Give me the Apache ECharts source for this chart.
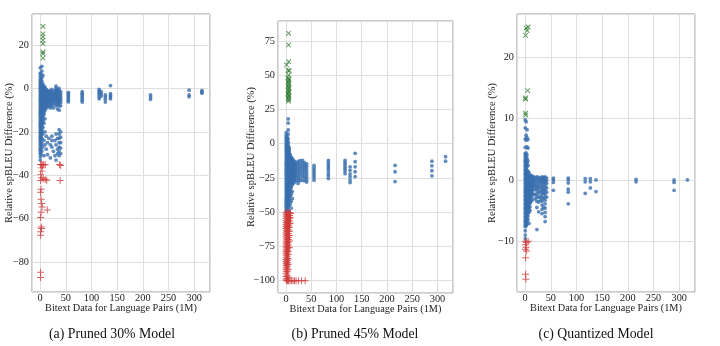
<!DOCTYPE html>
<html>
<head>
<meta charset="utf-8">
<script src="https://cdn.jsdelivr.net/npm/echarts@6/dist/echarts.min.js"></script>
<style>
html, body { margin: 0; padding: 0; background: #fff; }
#chart { width: 720px; height: 346px; }
</style>
</head>
<body>
<div id="chart"></div>
<script>
// Relative spBLEU difference vs. bitext size per language pair, three compressed models.
// Points are stored as columns: [bitext size (M), [relative differences (%) ...]].

const panelTitles = ['(a) Pruned 30% Model', '(b) Pruned 45% Model', '(c) Quantized Model'];
const xAxisTitle = 'Bitext Data for Language Pairs (1M)';
const yAxisTitle = 'Relative spBLEU Difference (%)';

// ---------- (a) Pruned 30% ----------
const blueColsA = [
  [0.3, [9.5, 7, 5.5, 4, 3, 2, 1, 0, -1, -2, -3, -4, -5, -6, -7, -8, -9, -10, -11, -12, -13, -14, -15, -16, -17, -18, -19, -20, -21, -22, -23, -24, -25, -26, -27, -28, -29, -30, -31.5, -33]],
  [1.8, [6.5, 4.5, 3.5, 2.5, 1.5, 0.5, -0.5, -1.5, -2.5, -3.5, -4.5, -5.5, -6.5, -7.5, -8.5, -9.5, -10.5, -11.5, -12.5, -13.5, -14.5, -15.5, -16.5, -17.5, -18.5, -19.5, -20.5, -21.5, -22.5, -23.5, -24.5, -26, -28, -30.5]],
  [3.5, [10.2, 8, 5, 3.2, 1.8, 0.8, -0.2, -1.2, -2.2, -3.2, -4.2, -5.2, -6.2, -7.2, -8.2, -9.2, -10.2, -11.2, -12.2, -13.2, -14.2, -15.2, -16.2, -17.2, -18.2, -19.2, -20.2, -23, -25.5, -29]],
  [5.5, [6, 2, 0.5, -0.5, -1.5, -2.5, -3.5, -4.5, -5.5, -6.5, -7.5, -8.5, -9.5, -10.5, -11.5, -12.5, -13.5, -14.5, -15.5, -18, -21, -27]],
  [7.5, [1, 0, -1, -2, -3, -4, -5, -6, -7, -8, -9, -10, -11, -12, -16, -24, -31]],
  [9.5, [0.5, -0.8, -2, -3, -4, -5, -6, -7, -8, -9, -10, -14, -20, -26]],
  [12, [-0.5, -1.5, -2.5, -3.5, -4.5, -5.5, -6.5, -7.5, -9, -22, -28]],
  [14.5, [-1, -2, -3, -4, -5, -6, -7, -8.5, -25, -30.5]],
  [17, [-1.5, -2.5, -3.5, -4.5, -5.5, -6.5, -8, -23]],
  [20, [-1, -2, -3, -4, -5, -6, -7, -8, -9, -26, -32]],
  [23, [-0.5, -1.5, -2.5, -3.5, -4.5, -5.5, -6.5, -8, -22, -24, -27]],
  [26, [-2, -3, -4, -5, -6, -7, -9, -29]],
  [29, [-1, -2, -3, -4, -5, -7, -24, -31]],
  [31, [1, 0, -1, -2, -3, -4, -5, -6, -8, -21, -26, -33]],
  [34, [-0.5, -1.5, -2.5, -3.5, -4.5, -5.5, -6.5, -7.5, -9.5, -23, -28, -30]],
  [37, [0, -1, -2, -3, -4, -5, -6, -7, -8, -10, -19, -21, -23, -25, -27, -29, -31]],
  [40, [-1.5, -2.5, -3.5, -4.5, -5.5, -6.5, -8, -20, -22.5, -25, -27.5, -30]],
  [55, [-1.8, -2.5, -3.2, -4, -4.8, -5.5, -6.2]],
  [82, [-1.5, -2.3, -3, -3.8, -4.6, -5.4, -6.3]],
  [115, [-0.5, -1.3, -2.2, -3, -4, -4.8]],
  [119, [-1.5, -2.5, -3.5]],
  [127, [-3, -4, -5, -6.3]],
  [137, [1.3, -2.4, -3.2, -4, -4.8]],
  [215, [-3, -4, -5]],
  [290, [-0.8, -3, -3.8]],
  [315, [-1, -1.6, -2.2]]
];
const greenA = [[5.5, 28.6], [5.5, 25.1], [5.5, 23.8], [5.5, 22.2], [5.5, 20.6], [5.5, 16.8], [5.5, 16], [5.5, 14]];
const redA = [
  [1, -35.1], [3, -35], [5, -35.4], [7, -35], [10, -35.2], [2, -36.6], [4, -38.1], [1, -39.6],
  [3, -41.2], [6, -41.6], [10, -42], [13, -42.3], [1, -42.4], [2, -46.5], [1, -47.8], [2, -51.1],
  [3, -53], [4, -54.6], [14, -56], [2, -57], [1, -59.5], [2, -63.8], [3, -64.5], [1, -66],
  [1, -67.6], [1, -84.7], [1, -87.1], [38, -35], [40, -35.5], [39, -42.4]
];

// ---------- (b) Pruned 45% ----------
const blueColsB = [
  [0.5, [8, 6, 4.5, 3, 1.5, 0, -1.5, -3, -4.5, -6, -7.5, -9, -10.5, -12, -13.5, -15, -16.5, -18, -19.5, -21, -22.5, -24, -25.5, -27, -28.5, -30, -31.5, -33, -34.5, -36, -37.5, -39, -40.5, -42, -43.5, -45, -46.5, -48, -49.5]],
  [2.5, [5, 2.5, 0.8, -0.8, -2.2, -3.8, -5.2, -6.8, -8.2, -9.8, -11.2, -12.8, -14.2, -15.8, -17.2, -18.8, -20.2, -21.8, -23.2, -24.8, -26.2, -27.8, -29.2, -30.8, -32.2, -33.8, -35.2, -36.8, -38.2, -39.8, -41.2, -42.8, -44.2, -45.8, -47.2, -49]],
  [4.5, [18, 15, 10, 7, 3.5, 1, -1, -2.5, -4, -5.5, -7, -8.5, -10, -11.5, -13, -14.5, -16, -17.5, -19, -20.5, -22, -23.5, -25, -26.5, -28, -29.5, -31, -32.5, -34, -35.5, -37, -38.5, -40, -41.5, -43, -44.5, -46, -48]],
  [6.5, [-3, -4.5, -6, -7.5, -9, -10.5, -12, -13.5, -15, -16.5, -18, -19.5, -21, -22.5, -24, -25.5, -27, -28.5, -30, -31.5, -33, -34.5, -36, -37.5, -39, -40.5, -42, -45, -49.5]],
  [8.5, [-8, -9.5, -11, -12.5, -14, -15.5, -17, -18.5, -20, -21.5, -23, -24.5, -26, -27.5, -29, -30.5, -32, -33.5, -35, -38, -44]],
  [10.5, [-10, -11.5, -13, -14.5, -16, -17.5, -19, -20.5, -22, -23.5, -25, -26.5, -28, -29.5, -32, -37, -42, -47]],
  [12.5, [-11, -12.5, -14, -15.5, -17, -18.5, -20, -21.5, -23, -24.5, -26, -27.5, -30, -35, -40]],
  [14.5, [-12, -13.5, -15, -16.5, -18, -19.5, -21, -22.5, -24, -25.5, -27, -29]],
  [17, [-13, -14.5, -16, -17.5, -19, -20.5, -22, -23.5, -25, -26.5, -28]],
  [19.5, [-14, -15.5, -17, -18.5, -20, -21.5, -23, -24.5, -27]],
  [24, [-13, -15, -17, -19, -21, -23, -25, -27, -29]],
  [28, [-12.5, -14.5, -16.5, -18.5, -20.5, -22.5, -25, -27]],
  [33, [-12.3, -14, -16, -18, -20, -22, -24, -26.8]],
  [37, [-14, -16, -18, -20, -22, -24.5, -27]],
  [41, [-14.7, -16.5, -18.5, -20.5, -22.5, -24.5, -26.5, -28]],
  [55.5, [-15.9, -17.5, -19, -20.5, -22, -23.5, -25, -26.8]],
  [84, [-12.3, -14, -15.5, -17, -18.5, -20, -22, -23.5, -25.5]],
  [117, [-12.3, -13.8, -15.3, -17, -18.5, -20, -21.9]],
  [127, [-17, -19.5, -22, -24, -26.5, -28.4]],
  [137, [-7.1, -13.2, -16.9, -20.5, -24]],
  [216, [-15.9, -20.5, -27.7]],
  [289, [-12.8, -16.2, -19.8, -23.5]],
  [316, [-9.5, -12.8]]
];
const greenB = [
  [5.3, 80.5], [5.3, 72], [1.3, 57.4], [5.5, 59.8], [4, 53.5], [6.5, 53.3],
  [5, 50], [4, 48], [6, 47], [5, 46], [4.5, 45], [6, 44], [5, 43], [4, 42], [5.5, 41], [6, 40],
  [4.5, 39], [5, 38], [6, 37.5], [4, 36.5], [5, 35.5], [6, 35], [5, 34], [4.5, 33], [5.5, 32], [5, 31]
];
const redColsB = [
  [0.5, [-50, -51.5, -53, -54.5, -56, -57.5, -59, -60.5, -62, -63.5, -65, -66.5, -68, -69.5, -71, -72.5, -74, -75.5, -77, -78.5, -80, -81.5, -83, -84.5, -86, -87.5, -89, -90.5, -92, -93.5, -95, -97, -99]],
  [2.5, [-50.8, -52.2, -53.8, -55.2, -56.8, -58.2, -59.8, -61.2, -62.8, -64.2, -65.8, -67.2, -68.8, -70.2, -71.8, -73.2, -74.8, -76.2, -77.8, -79.2, -80.8, -82.2, -83.8, -85.2, -86.8, -88.2, -89.8, -91.5, -93.5, -96, -98.5]],
  [4.5, [-50.3, -52, -53.5, -55, -56.5, -58, -59.5, -61, -62.5, -64, -65.5, -67, -68.5, -70, -72, -74, -76, -78.5, -81, -84, -88, -92, -97.5]],
  [7, [-50.5, -52.5, -54.5, -56.5, -58.5, -61, -64, -67, -71, -76]],
  [9, [-51, -54, -58]]
];
const redRowB = [[1, -100], [3, -100], [5, -100], [8, -100], [11, -100], [14, -100], [17, -100], [20, -100], [25, -100], [31, -100], [38, -100]];

// ---------- (c) Quantized ----------
const blueColsC = [
  [0.3, [9.8, 8.5, 6.7, 5.3, 4.3, 4, 3.6, 3.2, 2.9, 2.5, 2.2, 1.8, 1.5, 1.1, 0.8, 0.4, 0.1, -0.3, -0.6, -1, -1.3, -1.7, -2, -2.4, -2.7, -3.1, -3.4, -3.8, -4.1, -4.5, -4.8, -5.2, -5.5, -5.9, -6.2, -6.6, -6.9, -7.3, -7.6, -8.3, -9, -9.6]],
  [2, [9.5, 7.3, 6.5, 4.4, 3.8, 3.4, 3, 2.7, 2.3, 2, 1.6, 1.3, 0.9, 0.6, 0.2, -0.1, -0.5, -0.8, -1.2, -1.5, -1.9, -2.2, -2.6, -2.9, -3.3, -3.6, -4, -4.3, -4.7, -5, -5.4, -5.7, -6.1, -6.4, -6.8, -7.1, -7.5]],
  [3.8, [8.2, 6.9, 5.4, 4.1, 3.5, 2.8, 2.2, 1.6, 1.2, 0.8, 0.5, 0.2, -0.2, -0.5, -0.9, -1.2, -1.6, -1.9, -2.3, -2.6, -3, -3.3, -3.7, -4, -4.4, -4.7, -5.1, -5.4, -5.8, -6.2, -6.7, -7.2]],
  [5.6, [6.6, 5.2, 3.1, 2.4, 1.4, 0.9, 0.6, 0.3, -0.1, -0.4, -0.8, -1.1, -1.5, -1.8, -2.2, -2.5, -2.9, -3.2, -3.6, -3.9, -4.3, -4.6, -5, -5.4, -5.9, -6.5]],
  [7.5, [1.2, 0.7, 0.4, 0, -0.3, -0.7, -1, -1.4, -1.7, -2.1, -2.4, -2.8, -3.1, -3.5, -3.9, -4.3, -4.8, -5.3, -7.1]],
  [9.5, [0.8, 0.5, 0.1, -0.2, -0.6, -0.9, -1.3, -1.6, -2, -2.3, -2.7, -3, -3.4, -3.8, -4.4, -5]],
  [11.5, [0.7, 0.3, 0, -0.4, -0.7, -1.1, -1.4, -1.8, -2.1, -2.5, -2.9, -3.5]],
  [13.5, [0.6, 0.2, -0.2, -0.5, -0.9, -1.2, -1.6, -2, -2.6, -3.3]],
  [16, [0.5, 0.1, -0.3, -0.7, -1.1, -1.6, -2.3]],
  [19, [0.4, 0, -0.4, -0.9, -1.5, -2.4, -3.1]],
  [23, [0.5, 0.1, -0.3, -0.8, -1.1, -1.4, -1.9, -2.4, -2.9, -3.5, -4.5, -8.1]],
  [26.5, [0.4, 0, -0.5, -1, -1.5, -2.1, -2.8, -3.6, -5.2]],
  [30, [0.3, -0.1, -0.6, -1.2, -1.9, -2.7, -3.3]],
  [33, [0.5, 0.1, -0.3, -0.8, -1.3, -1.8, -2.3, -2.9, -3.5, -4.1, -4.8, -5.5]],
  [36, [0.4, 0, -0.4, -1, -1.6, -2.2, -3, -4.5]],
  [39, [0.5, 0.1, -0.3, -0.7, -1.2, -1.7, -2.2, -2.7, -3.3, -3.9, -4.6, -5.3, -6, -6.8]],
  [42, [0.3, -0.1, -0.6, -1.3, -2, -2.8]],
  [55, [0.3, 0, -0.4, -1.7]],
  [84, [0.3, 0, -0.5, -1.5, -2, -3.9]],
  [117, [0.2, -0.3, -2.2]],
  [127, [0.2, -0.3, -1.3]],
  [138, [0, -1.9]],
  [216, [0.1, -0.3]],
  [290, [0, -0.4, -1.7]],
  [316, [0]]
];
const greenC = [[2, 24.8], [6, 25], [4, 24.4], [1, 23.6], [5, 14.6], [0.5, 13.4], [1, 13.2], [0.8, 10.9], [1.2, 10.6]];
const redC = [[0.5, -10], [3, -10.2], [6, -10], [1, -10.6], [2, -11], [0.5, -11.3], [3, -11.6], [1, -12.7], [1, -15.4], [1.5, -16.2]];

// Axis extents (data range plus a 5% margin) and tick steps
const xExtent = [-15.75, 330.75];
const xStep = 50;
const yExtents = [[-93.8, 34.3], [-109, 89.5], [-18.3, 27.1]];
const ySteps = [20, 25, 10];

const expand = cols => cols.flatMap(([x, ys]) => ys.map(y => [x, y]));

const panels = [
  { blue: expand(blueColsA), green: greenA, red: redA },
  { blue: expand(blueColsB), green: greenB, red: expand(redColsB).concat(redRowB) },
  { blue: expand(blueColsC), green: greenC, red: redC }
];

// Plot boxes in pixels
const boxes = [
  { left: 32, top: 14, width: 178, height: 278, nameGap: 17, titleX: 107 },
  { left: 278, top: 21, width: 175, height: 272, nameGap: 21, titleX: 350 },
  { left: 517, top: 14, width: 178, height: 278, nameGap: 19, titleX: 591 }
];

const serif = 'Liberation Serif';
const PLUS = 'path://M4.3,0H5.7V10H4.3ZM0,4.3H10V5.7H0Z';

const fmt = step => v => {
  if (Math.abs(v / step - Math.round(v / step)) > 1e-6) return '';
  return v < 0 ? '\u2212' + (-v) : String(v);
};

const grid = [], xAxis = [], yAxis = [], series = [], title = [];
panels.forEach((p, i) => {
  const b = boxes[i];
  grid.push({ left: b.left, top: b.top, width: b.width, height: b.height, show: true,
    borderColor: '#999', borderWidth: 1, backgroundColor: '#fff' });
  xAxis.push({
    type: 'value', gridIndex: i, min: xExtent[0], max: xExtent[1],
    minInterval: xStep, maxInterval: xStep,
    name: xAxisTitle, nameLocation: 'middle', nameGap: 11, nameMoveOverlap: false,
    nameTextStyle: { fontFamily: serif, fontSize: 10.3, color: '#222' },
    axisLine: { show: false }, axisTick: { show: false },
    axisLabel: { fontFamily: serif, fontSize: 10.3, color: '#222', margin: 1, formatter: fmt(xStep) },
    splitLine: { show: true, lineStyle: { color: '#dedede', width: 1 } }
  });
  yAxis.push({
    type: 'value', gridIndex: i, min: yExtents[i][0], max: yExtents[i][1],
    minInterval: ySteps[i], maxInterval: ySteps[i],
    name: yAxisTitle, nameLocation: 'middle', nameGap: b.nameGap, nameMoveOverlap: false,
    nameTextStyle: { fontFamily: serif, fontSize: 10.5, color: '#222' },
    axisLine: { show: false }, axisTick: { show: false },
    axisLabel: { fontFamily: serif, fontSize: 10.3, color: '#222', margin: 3, formatter: fmt(ySteps[i]) },
    splitLine: { show: true, lineStyle: { color: '#dedede', width: 1 } }
  });
  series.push({
    type: 'scatter', xAxisIndex: i, yAxisIndex: i, data: p.blue,
    symbol: 'circle', symbolSize: 3.8, itemStyle: { color: '#3a6fae' }, z: 2, silent: true
  });
  series.push({
    type: 'scatter', xAxisIndex: i, yAxisIndex: i, data: p.red,
    symbol: PLUS, symbolSize: 7, itemStyle: { color: '#d03a3a' }, z: 3, silent: true
  });
  series.push({
    type: 'scatter', xAxisIndex: i, yAxisIndex: i, data: p.green,
    symbol: PLUS, symbolSize: 6.5, symbolRotate: 45, itemStyle: { color: '#2b7a2b' }, z: 3, silent: true
  });
  title.push({
    text: panelTitles[i], left: b.titleX, top: 322, textAlign: 'center',
    textStyle: { fontFamily: serif, fontSize: 13.8, fontWeight: 'normal', color: '#111' }
  });
});

const chart = echarts.init(document.getElementById('chart'), null, { renderer: 'canvas' });
chart.setOption({
  backgroundColor: '#fff',
  animation: false,
  title, grid, xAxis, yAxis, series
});
</script>
</body>
</html>
